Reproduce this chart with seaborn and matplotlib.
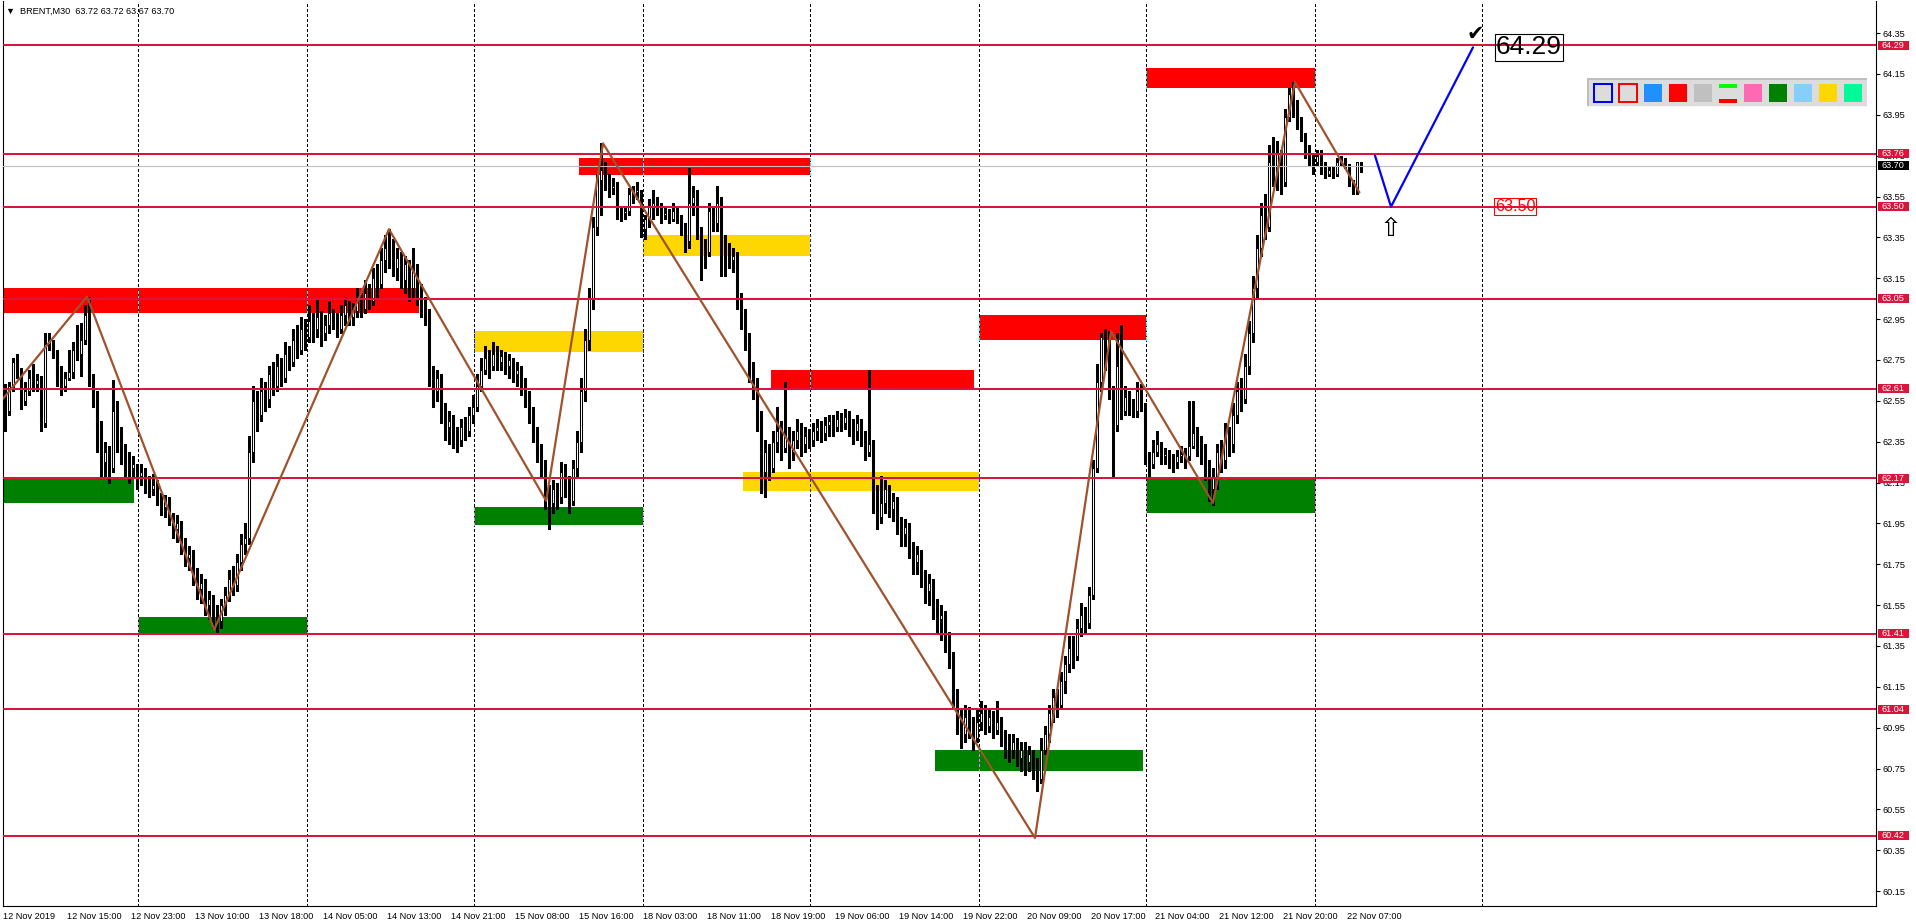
import matplotlib
matplotlib.use('Agg')
import matplotlib.pyplot as plt
import matplotlib.transforms as mtransforms
from matplotlib.patches import Rectangle
import numpy as np
import seaborn as sns

# BRENT M30 candles, 12-22 Nov 2019 (each bar opens at the previous close)
first_open = 62.60
closes = [
    62.50, 62.62, 62.74, 62.70, 62.55, 62.60, 62.66, 62.63, 62.65, 62.44,
    62.83, 62.84, 62.79, 62.67, 62.62, 62.66, 62.69, 62.80, 62.78, 62.85,
    62.97, 62.66, 62.58, 62.42, 62.25, 62.30, 62.22, 62.50, 62.38, 62.30,
    62.26, 62.22, 62.24, 62.18, 62.20, 62.15, 62.12, 62.14, 62.08, 62.03,
    62.06, 61.98, 61.92, 61.95, 61.84, 61.78, 61.80, 61.70, 61.63, 61.66,
    61.55, 61.58, 61.50, 61.47, 61.55, 61.60, 61.68, 61.65, 61.76, 61.85,
    61.88, 62.30, 62.55, 62.48, 62.60, 62.56, 62.68, 62.62, 62.72, 62.66,
    62.78, 62.74, 62.85, 62.80, 62.90, 62.86, 62.94, 62.90, 62.96, 62.88,
    62.92, 62.98, 62.94, 62.90, 62.97, 63.02, 62.96, 62.99, 63.05, 63.00,
    63.08, 63.04, 63.15, 63.12, 63.24, 63.30, 63.28, 63.20, 63.25, 63.14,
    63.22, 63.10, 63.18, 63.08, 63.00, 62.98, 62.70, 62.60, 62.66, 62.50,
    62.42, 62.45, 62.38, 62.36, 62.42, 62.40, 62.48, 62.52, 62.62, 62.70,
    62.76, 62.72, 62.78, 62.74, 62.77, 62.72, 62.75, 62.68, 62.70, 62.64,
    62.58, 62.50, 62.40, 62.30, 62.24, 62.10, 62.05, 62.12, 62.08, 62.20,
    62.15, 62.06, 62.22, 62.35, 62.60, 62.85, 63.05, 63.40, 63.63, 63.68,
    63.62, 63.59, 63.60, 63.47, 63.47, 63.48, 63.56, 63.57, 63.58, 63.39,
    63.44, 63.50, 63.52, 63.49, 63.46, 63.47, 63.44, 63.48, 63.45, 63.40,
    63.33, 63.52, 63.55, 63.38, 63.30, 63.28, 63.48, 63.42, 63.52, 63.30,
    63.30, 63.24, 63.26, 63.05, 62.98, 62.85, 62.70, 62.62, 62.48, 62.20,
    62.30, 62.22, 62.35, 62.40, 62.32, 62.38, 62.30, 62.36, 62.40, 62.34,
    62.38, 62.36, 62.40, 62.42, 62.39, 62.43, 62.45, 62.42, 62.46, 62.44,
    62.47, 62.43, 62.40, 62.44, 62.38, 62.30, 62.34, 62.10, 61.98, 62.05,
    62.12, 62.02, 62.06, 61.95, 61.90, 61.93, 61.82, 61.76, 61.80, 61.70,
    61.62, 61.66, 61.54, 61.48, 61.50, 61.40, 61.30, 61.10, 61.00, 60.92,
    61.00, 60.95, 60.90, 60.98, 61.02, 60.96, 61.00, 60.94, 60.98, 60.90,
    60.86, 60.84, 60.88, 60.80, 60.84, 60.78, 60.82, 60.76, 60.70, 60.84,
    60.92, 61.02, 61.10, 61.06, 61.18, 61.26, 61.34, 61.30, 61.44, 61.50,
    61.46, 61.60, 62.22, 62.64, 62.86, 62.80, 62.60, 62.43, 62.72, 62.50,
    62.57, 62.51, 62.50, 62.60, 62.54, 62.27, 62.24, 62.30, 62.34, 62.28,
    62.29, 62.26, 62.25, 62.28, 62.29, 62.28, 62.33, 62.39, 62.35, 62.30,
    62.22, 62.12, 62.18, 62.30, 62.26, 62.38, 62.34, 62.48, 62.60, 62.56,
    62.72, 62.88, 63.10, 63.30, 63.46, 63.40, 63.72, 63.66, 63.76, 63.62,
    63.94, 64.05, 63.98, 63.92, 63.85, 63.77, 63.73, 63.72, 63.75, 63.71,
    63.66, 63.68, 63.66, 63.72, 63.73, 63.70, 63.62, 63.58, 63.72, 63.70,
]
highs = [
    62.63, 62.64, 62.76, 62.78, 62.71, 62.64, 62.70, 62.73, 62.68, 62.67,
    62.88, 62.88, 62.85, 62.80, 62.72, 62.69, 62.80, 62.84, 62.92, 62.93,
    63.02, 63.06, 62.68, 62.60, 62.45, 62.35, 62.33, 62.65, 62.55, 62.42,
    62.34, 62.30, 62.28, 62.24, 62.24, 62.22, 62.18, 62.19, 62.16, 62.10,
    62.09, 62.08, 62.00, 61.99, 61.96, 61.88, 61.84, 61.82, 61.73, 61.70,
    61.68, 61.62, 61.60, 61.55, 61.58, 61.64, 61.72, 61.74, 61.80, 61.90,
    61.95, 62.38, 62.62, 62.60, 62.66, 62.64, 62.72, 62.74, 62.78, 62.76,
    62.84, 62.82, 62.90, 62.92, 62.96, 62.95, 63.02, 62.98, 63.05, 62.99,
    62.97, 63.04, 63.00, 62.98, 63.02, 63.06, 63.04, 63.03, 63.10, 63.08,
    63.14, 63.12, 63.20, 63.22, 63.30, 63.36, 63.39, 63.34, 63.30, 63.28,
    63.26, 63.24, 63.30, 63.22, 63.12, 63.06, 63.00, 62.72, 62.70, 62.68,
    62.54, 62.50, 62.48, 62.42, 62.46, 62.47, 62.52, 62.58, 62.68, 62.76,
    62.82, 62.80, 62.84, 62.82, 62.80, 62.79, 62.78, 62.76, 62.74, 62.72,
    62.66, 62.60, 62.52, 62.42, 62.34, 62.26, 62.14, 62.16, 62.15, 62.25,
    62.24, 62.18, 62.26, 62.40, 62.66, 62.90, 63.10, 63.45, 63.66, 63.81,
    63.72, 63.66, 63.64, 63.62, 63.50, 63.50, 63.59, 63.60, 63.62, 63.58,
    63.46, 63.54, 63.58, 63.55, 63.52, 63.50, 63.49, 63.52, 63.50, 63.46,
    63.42, 63.69, 63.60, 63.58, 63.40, 63.34, 63.52, 63.50, 63.60, 63.55,
    63.36, 63.32, 63.30, 63.28, 63.08, 63.00, 62.88, 62.74, 62.66, 62.50,
    62.36, 62.34, 62.40, 62.52, 62.45, 62.64, 62.42, 62.40, 62.46, 62.44,
    62.42, 62.41, 62.44, 62.46, 62.45, 62.47, 62.48, 62.48, 62.50, 62.49,
    62.51, 62.50, 62.46, 62.48, 62.46, 62.40, 62.70, 62.36, 62.14, 62.18,
    62.16, 62.14, 62.10, 62.08, 61.98, 61.97, 61.95, 61.86, 61.84, 61.82,
    61.72, 61.70, 61.68, 61.58, 61.55, 61.52, 61.42, 61.32, 61.14, 61.04,
    61.06, 61.05, 61.00, 61.04, 61.08, 61.06, 61.04, 61.03, 61.08, 61.00,
    60.94, 60.92, 60.92, 60.90, 60.88, 60.88, 60.86, 60.84, 60.80, 60.90,
    60.96, 61.06, 61.14, 61.14, 61.22, 61.30, 61.40, 61.40, 61.48, 61.56,
    61.54, 61.64, 62.26, 62.73, 62.88, 62.90, 62.89, 62.62, 62.88, 62.92,
    62.62, 62.60, 62.56, 62.64, 62.63, 62.30, 62.30, 62.36, 62.40, 62.35,
    62.32, 62.31, 62.29, 62.31, 62.33, 62.32, 62.55, 62.55, 62.42, 62.38,
    62.34, 62.26, 62.22, 62.34, 62.36, 62.44, 62.42, 62.54, 62.64, 62.66,
    62.78, 62.94, 63.16, 63.36, 63.52, 63.56, 63.80, 63.84, 63.82, 63.78,
    63.98, 64.08, 64.11, 64.02, 63.94, 63.86, 63.80, 63.76, 63.78, 63.78,
    63.72, 63.70, 63.70, 63.74, 63.75, 63.74, 63.71, 63.63, 63.72, 63.72,
]
lows = [
    62.40, 62.48, 62.60, 62.66, 62.51, 62.53, 62.58, 62.60, 62.60, 62.40,
    62.42, 62.80, 62.76, 62.62, 62.58, 62.60, 62.65, 62.66, 62.75, 62.67,
    62.83, 62.62, 62.52, 62.30, 62.18, 62.17, 62.15, 62.20, 62.30, 62.24,
    62.18, 62.15, 62.17, 62.12, 62.14, 62.10, 62.08, 62.09, 62.04, 61.99,
    61.98, 61.94, 61.88, 61.86, 61.80, 61.74, 61.72, 61.65, 61.58, 61.56,
    61.50, 61.48, 61.44, 61.42, 61.44, 61.50, 61.57, 61.60, 61.62, 61.72,
    61.80, 61.85, 62.25, 62.40, 62.45, 62.50, 62.52, 62.58, 62.60, 62.62,
    62.64, 62.70, 62.72, 62.76, 62.78, 62.80, 62.84, 62.84, 62.86, 62.82,
    62.85, 62.88, 62.90, 62.86, 62.88, 62.92, 62.92, 62.92, 62.96, 62.96,
    62.98, 63.00, 63.02, 63.06, 63.10, 63.18, 63.20, 63.16, 63.14, 63.10,
    63.08, 63.04, 63.06, 63.02, 62.96, 62.92, 62.62, 62.52, 62.55, 62.44,
    62.36, 62.34, 62.32, 62.30, 62.33, 62.36, 62.38, 62.44, 62.50, 62.60,
    62.68, 62.66, 62.70, 62.70, 62.70, 62.68, 62.66, 62.64, 62.62, 62.58,
    62.52, 62.44, 62.35, 62.25, 62.18, 62.02, 61.92, 62.00, 62.02, 62.05,
    62.08, 62.00, 62.04, 62.18, 62.30, 62.55, 62.80, 63.00, 63.36, 63.46,
    63.58, 63.55, 63.56, 63.44, 63.43, 63.44, 63.46, 63.52, 63.54, 63.35,
    63.34, 63.40, 63.44, 63.46, 63.42, 63.44, 63.42, 63.43, 63.42, 63.36,
    63.28, 63.30, 63.46, 63.34, 63.14, 63.20, 63.26, 63.38, 63.38, 63.16,
    63.16, 63.20, 63.18, 63.00, 62.90, 62.80, 62.64, 62.56, 62.40, 62.10,
    62.08, 62.16, 62.20, 62.30, 62.26, 62.30, 62.22, 62.26, 62.32, 62.28,
    62.30, 62.32, 62.33, 62.36, 62.35, 62.36, 62.38, 62.38, 62.40, 62.40,
    62.41, 62.38, 62.34, 62.36, 62.33, 62.26, 62.28, 62.00, 61.92, 61.95,
    62.00, 61.98, 61.96, 61.90, 61.84, 61.84, 61.78, 61.70, 61.70, 61.64,
    61.56, 61.55, 61.48, 61.42, 61.38, 61.32, 61.24, 61.04, 60.92, 60.85,
    60.88, 60.90, 60.84, 60.88, 60.94, 60.92, 60.93, 60.90, 60.92, 60.86,
    60.80, 60.78, 60.80, 60.76, 60.74, 60.72, 60.74, 60.70, 60.64, 60.68,
    60.82, 60.88, 60.98, 61.00, 61.04, 61.12, 61.22, 61.24, 61.28, 61.40,
    61.42, 61.44, 61.58, 62.20, 62.60, 62.70, 62.56, 62.18, 62.40, 62.46,
    62.48, 62.48, 62.47, 62.47, 62.50, 62.24, 62.18, 62.22, 62.28, 62.24,
    62.24, 62.22, 62.20, 62.22, 62.25, 62.22, 62.26, 62.32, 62.28, 62.24,
    62.16, 62.06, 62.04, 62.12, 62.20, 62.22, 62.28, 62.30, 62.44, 62.50,
    62.54, 62.68, 62.84, 63.06, 63.26, 63.34, 63.38, 63.60, 63.58, 63.56,
    63.60, 63.92, 63.94, 63.88, 63.82, 63.74, 63.70, 63.66, 63.70, 63.66,
    63.64, 63.65, 63.64, 63.65, 63.70, 63.69, 63.60, 63.56, 63.56, 63.67,
]

# horizontal levels and the current bid
levels = [64.29, 63.76, 63.50, 63.05, 62.61, 62.17, 61.41, 61.04, 60.42]
last_price = 63.70

# zones: (from bar, to bar, low, high)
red_zones = [(-0.5, 103.5, 62.98, 63.10), (143.5, 201.25, 63.655, 63.74),
             (191.5, 242.25, 62.61, 62.70), (243.5, 285.25, 62.85, 62.97),
             (285.25, 327.5, 64.08, 64.18)]
yellow_zones = [(117.25, 159.5, 62.79, 62.89), (159.5, 201.25, 63.26, 63.36),
                (184.5, 243.5, 62.11, 62.20)]
green_zones = [(-0.5, 32.25, 62.05, 62.17), (33.25, 75.5, 61.41, 61.49),
               (117.25, 159.5, 61.94, 62.03), (232.5, 284.5, 60.74, 60.84),
               (285.25, 327.5, 62.00, 62.17)]

# zigzag swing points
zz_bars = [-0.5, 20.5, 52.3, 96, 135.3, 149.5, 257.5, 276.5, 302, 322.5, 338.6]
zz_prices = [62.56, 63.06, 61.43, 63.39, 62.06, 63.81, 60.41, 62.89, 62.05, 64.11, 63.57]

# forecast path and its target
fc_bars = [342.5, 346.5, 367]
fc_prices = [63.75, 63.50, 64.28]
target = 64.29
pullback = 63.50

# axes
price_ticks = [64.35, 64.15, 63.95, 63.75, 63.55, 63.35, 63.15, 62.95, 62.75, 62.55, 62.35,
               62.15, 61.95, 61.75, 61.55, 61.35, 61.15, 60.95, 60.75, 60.55, 60.35, 60.15]
tick_bars = list(range(0, 337, 16))
tick_labels = ['12 Nov 2019', '12 Nov 15:00', '12 Nov 23:00', '13 Nov 10:00', '13 Nov 18:00',
               '14 Nov 05:00', '14 Nov 13:00', '14 Nov 21:00', '15 Nov 08:00', '15 Nov 16:00',
               '18 Nov 03:00', '18 Nov 11:00', '18 Nov 19:00', '19 Nov 06:00', '19 Nov 14:00',
               '19 Nov 22:00', '20 Nov 09:00', '20 Nov 17:00', '21 Nov 04:00', '21 Nov 12:00',
               '21 Nov 20:00', '22 Nov 07:00']
grid_bars = [33.25, 75.5, 117.25, 159.5, 201.25, 243.5, 285.25, 327.5, 369.25]

W, H = 1916, 923
YMIN, YMAX = 60.077, 64.507
CRIMSON = '#DC143C'
DASH = (0, (2.2, 2.2))
SMALL = 6.6

sns.set_style('white')
plt.rcParams['font.family'] = ['Liberation Sans', 'DejaVu Sans']
plt.rcParams['text.color'] = 'black'
plt.rcParams['xtick.color'] = 'black'
plt.rcParams['ytick.color'] = 'black'

fig = plt.figure(figsize=(W / 100, H / 100), dpi=100)
ax = fig.add_axes([3 / W, 1 - 906 / H, 1873 / W, 905 / H])

# zones in the background, the grid shows inverted where it crosses them
ax.vlines(grid_bars, YMIN, YMAX, color='black', lw=0.8, linestyles=DASH, zorder=2,
          antialiased=False)
for zones, col, inv in [(red_zones, '#FF0000', '#00FFFF'),
                        (yellow_zones, '#FFD700', '#0028FF'),
                        (green_zones, '#008000', '#FF7FFF')]:
    for b0, b1, lo, hi in zones:
        ax.fill_between([b0, b1], lo, hi, color=col, lw=0, zorder=1)
        for g in grid_bars:
            if b0 <= g <= b1:
                ax.vlines(g, lo, hi, color=inv, lw=0.8, linestyles=DASH, zorder=2.1,
                          antialiased=False)

# candles
c = np.array(closes)
o = np.r_[first_open, c[:-1]]
hi = np.maximum(np.array(highs), np.maximum(o, c))
lo = np.minimum(np.array(lows), np.minimum(o, c))
bars = np.arange(len(c))
ax.vlines(bars, lo, hi, color='black', lw=0.8, zorder=3, antialiased=False)
ax.bar(bars, np.abs(c - o), bottom=np.minimum(o, c), width=0.5,
       color=['white' if up else 'black' for up in c >= o],
       edgecolor='black', linewidth=0.75, zorder=3.5)

# bid line and levels
ax.axhline(last_price, color='#C0C0C0', lw=0.8, zorder=4)
for lv in levels:
    ax.axhline(lv, color=CRIMSON, lw=1.44, zorder=5)

# zigzag and forecast
sns.lineplot(x=zz_bars, y=zz_prices, sort=False, estimator=None, color='#A0522D',
             linewidth=1.6, ax=ax, zorder=6)
sns.lineplot(x=fc_bars, y=fc_prices, sort=False, estimator=None, color='#0000FF',
             linewidth=1.6, ax=ax, zorder=6)

ax.text(fc_bars[1], fc_prices[1] - 0.11, '\u21e7', fontsize=19, ha='center', va='center',
        family=['DejaVu Sans'], zorder=7)
ax.text(fc_bars[2] + 0.5, target + 0.055, '\u2714', fontsize=15, ha='center', va='center',
        family=['DejaVu Sans'], zorder=7)
ax.text(381, target - 0.01, f'{target:.2f}', fontsize=19, ha='center', va='center', zorder=7,
        bbox=dict(boxstyle='square,pad=0.05', fc='none', ec='black', lw=0.8))
ax.text(377.6, pullback, f'{pullback:.2f}', fontsize=11.6, color='#FF0000', ha='center',
        va='center', zorder=7,
        bbox=dict(boxstyle='square,pad=0.05', fc='none', ec='#FF0000', lw=0.8))

# axes styling
ax.set_xlim(-0.5, 467.75)
ax.set_ylim(YMIN, YMAX)
ax.set_xlabel('')
ax.set_ylabel('')
ax.spines['top'].set_visible(False)
for s in ['left', 'right', 'bottom']:
    ax.spines[s].set_color('black')
    ax.spines[s].set_linewidth(0.8)
ax.yaxis.tick_right()
ax.set_yticks(price_ticks)
ax.set_yticklabels([f'{p:.2f}' for p in price_ticks])
ax.set_xticks([b - 0.5 for b in tick_bars])
ax.set_xticklabels(tick_labels, ha='left')
ax.tick_params(axis='y', direction='out', length=3, width=0.8, pad=2, labelsize=SMALL)
ax.tick_params(axis='x', direction='out', length=3, width=0.8, pad=1, labelsize=SMALL)

# price tags on the right scale
ppx = (YMAX - YMIN) / 905
yt = mtransforms.blended_transform_factory(fig.transFigure, ax.transData)


def price_tag(y, fc):
    ax.add_patch(Rectangle((1878 / W, y - 4.5 * ppx), 31 / W, 9 * ppx, transform=yt,
                           fc=fc, ec='none', clip_on=False, zorder=10))
    ax.text(1882 / W, y, f'{y:.2f}', transform=yt, color='white', fontsize=SMALL,
            ha='left', va='center', clip_on=False, zorder=11)


for lv in levels:
    price_tag(lv, CRIMSON)
price_tag(last_price, 'black')
ax.set_ylim(YMIN, YMAX)

# header
fig.text(6 / W, 1 - 11 / H, '\u25bc  BRENT,M30  63.72 63.72 63.67 63.70', fontsize=SMALL,
         ha='left', va='center')

# colour palette panel (figure pixels, origin top-left)
def px_rect(x0, y0, w, h, **kw):
    fig.add_artist(Rectangle((x0 / W, 1 - (y0 + h) / H), w / W, h / H,
                             transform=fig.transFigure, **kw))


px_rect(1587, 78, 280, 29, fc='#DCDCDC', ec='none')
px_rect(1587, 78, 280, 2, fc='#BEBEBE', ec='none')
px_rect(1587, 78, 2, 29, fc='#BEBEBE', ec='none')
px_rect(1587, 106, 280, 1, fc='#F4F4F4', ec='none')
px_rect(1594, 84, 18, 18, fc='none', ec='#0000FF', lw=1.44)
px_rect(1619, 84, 18, 18, fc='none', ec='#FF0000', lw=1.44)
palette_colors = ['#1E90FF', '#FF0000', '#C0C0C0', None, '#FF69B4', '#008000',
                  '#87CEFA', '#FFD700', '#00FA9A']
for i, col in enumerate(palette_colors):
    x0 = 1644 + 25 * i
    if col is None:
        px_rect(x0, 84, 18, 3.5, fc='#00FF00', ec='none')
        px_rect(x0, 99, 18, 3.5, fc='#FF0000', ec='none')
    else:
        px_rect(x0, 84, 18, 18, fc=col, ec='none')

fig.savefig('out.png', dpi=100)
